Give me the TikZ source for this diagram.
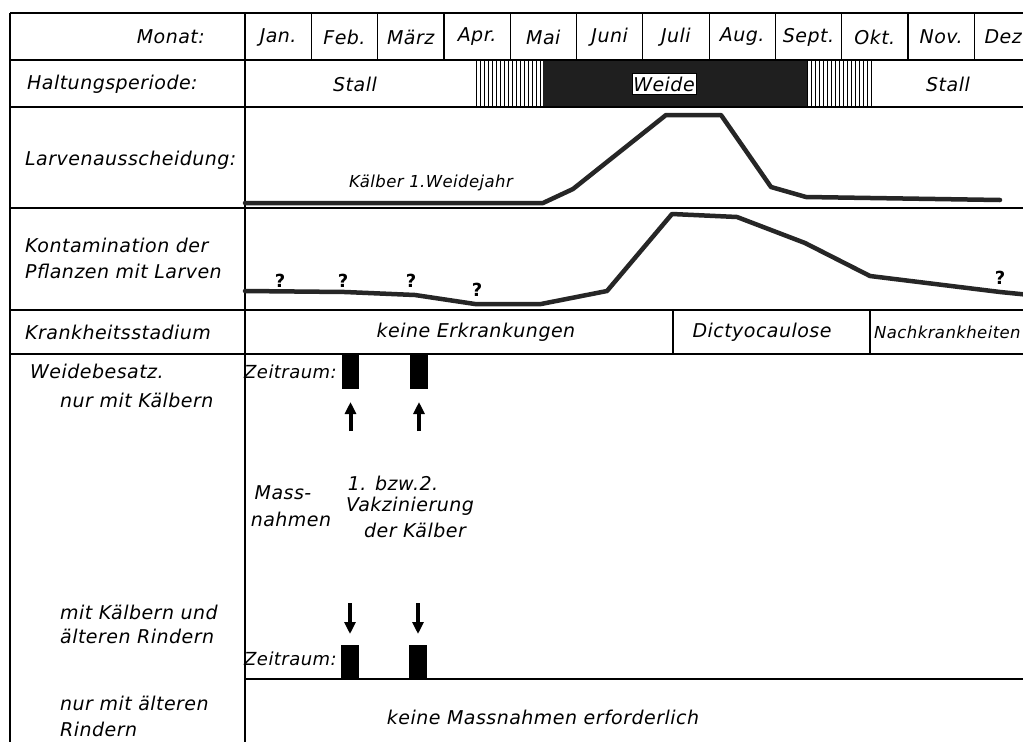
\documentclass[tikz,border=0pt]{standalone}
\usepackage{fontspec}
\setmainfont{DejaVu Sans}[LetterSpace=2.5]
\usetikzlibrary{arrows.meta}
\begin{document}
\begin{tikzpicture}[x=1pt,y=-1pt,
  txt/.style={font=\fontsize{19}{21}\selectfont\itshape, inner sep=0pt},
  small/.style={font=\fontsize{16.5}{18}\selectfont\itshape, inner sep=0pt},
  zeit/.style={font=\fontsize{18}{20}\selectfont\itshape, inner sep=0pt},
  qm/.style={font=\fontsize{18}{20}\selectfont\bfseries, inner sep=0pt},
  grid/.style={line width=1.2pt, black},
  curve/.style={line width=4.5pt, line join=round, line cap=round, black!85},
  hatch/.style={line width=0.9pt},
  period/.style={fill=black!88, draw=none},
  arr/.style={line width=4pt, -{Triangle[width=11pt,length=12pt]}}]
\clip (0,0) rectangle (1023,742);
\fill[white] (0,0) rectangle (1023,742);
% ---------- table grid ----------
\draw[grid] (10,13) -- (1023,13);
\foreach \yy in {60,107,208,310,354} \draw[grid] (10,\yy) -- (1023,\yy);
\draw[grid] (10,13) -- (10,742);
\draw[grid] (245,13) -- (245,742);
\draw[grid] (245,679) -- (1023,679);
\foreach \i in {1,...,11} \draw[grid] ({245+66.3*\i},13) -- ({245+66.3*\i},60);
\draw[grid] (673,310) -- (673,354);
\draw[grid] (870,310) -- (870,354);
% ---------- header ----------
\node[txt, anchor=east] (monat) at (205,37) {Monat:};
\foreach \m [count=\i] in {Jan.,Feb.,März,Apr.,Mai,Juni,Juli,Aug.,Sept.,Okt.,Nov.}
  \node[txt] (m\i) at ({245+66.3*(\i-0.5)},37) {\m};
\node[txt, anchor=east] (m12) at (1022,37) {Dez};
% ---------- Haltungsperiode ----------
\node[txt, anchor=west] (halt) at (27,84) {Haltungsperiode:};
\fill[period] (543,61) rectangle (807,106);
\foreach \xx in {476,480,...,543} \draw[hatch] (\xx,61) -- (\xx,106);
\foreach \xx in {807,811,...,873} \draw[hatch] (\xx,61) -- (\xx,106);
\node[txt] (stall1) at (355,84) {Stall};
\node[txt] (stall2) at (948,84) {Stall};
\node[txt, fill=white, draw=black, line width=0.6pt, inner sep=1.5pt, minimum height=21pt] (weide) at (664,84) {Weide};
% ---------- Larvenausscheidung ----------
\node[txt, anchor=west] (larv) at (25,160) {Larvenausscheidung:};
\draw[curve] (245,203) -- (543,203) -- (573,189) -- (666,115) -- (721,115)
  -- (771,187) -- (806,197) -- (1000,200);
\node[small] (kaelber) at (431,183) {Kälber 1.Weidejahr};
% ---------- Kontamination ----------
\node[txt, anchor=west] (kont1) at (25,245) {Kontamination der};
\node[txt, anchor=west] (kont2) at (25,271) {Pflanzen mit Larven};
\draw[curve] (245,291) -- (345,292) -- (415,295) -- (475,304) -- (541,304)
  -- (607,291) -- (672,214) -- (737,217) -- (805,243) -- (870,276)
  -- (1000,292) -- (1030,295);
\node[qm] (q1) at (280,281) {?};
\node[qm] (q2) at (343,281) {?};
\node[qm] (q3) at (411,281) {?};
\node[qm] (q4) at (477,290) {?};
\node[qm] (q5) at (1000,278) {?};
% ---------- Krankheitsstadium ----------
\node[txt, anchor=west] (krank) at (25,332) {Krankheitsstadium};
\node[txt] (keine) at (476,332) {keine Erkrankungen};
\node[txt] (dict) at (762,332) {Dictyocaulose};
\node[txt, anchor=west, font=\fontsize{16.5}{19}\selectfont\itshape] (nach) at (874,332) {Nachkrankheiten};
% ---------- Weidebesatz ----------
\node[txt, anchor=west] (wb1) at (30,371) {Weidebesatz.};
\node[txt, anchor=west] (wb2) at (60,400) {nur mit Kälbern};
\node[zeit, anchor=west] (zr1) at (244,372) {Zeitraum:};
\fill (342,355) rectangle (359,389);
\fill (410,355) rectangle (428,389);
\coordinate (ua1b) at (350.5,431);
\coordinate (ua1t) at (350.5,402);
\coordinate (ua2b) at (419,431);
\coordinate (ua2t) at (419,402);
\draw[arr] (ua1b) -- (ua1t);
\draw[arr] (ua2b) -- (ua2t);
\node[txt] (mass1) at (283,493) {Mass-};
\node[txt] (mass2) at (291,519) {nahmen};
\node[txt] (vak1) at (393,483) {1. bzw.2.};
\node[txt] (vak2) at (410,506) {Vakzinierung};
\node[txt] (vak3) at (415,530) {der Kälber};
\node[txt, anchor=west] (mk1) at (60,612) {mit Kälbern und};
\node[txt, anchor=west] (mk2) at (60,636) {älteren Rindern};
\coordinate (da1t) at (350,603);
\coordinate (da1b) at (350,634);
\coordinate (da2t) at (418,603);
\coordinate (da2b) at (418,634);
\draw[arr] (da1t) -- (da1b);
\draw[arr] (da2t) -- (da2b);
\node[zeit, anchor=west] (zr2) at (244,659) {Zeitraum:};
\fill (341,645) rectangle (359,679);
\fill (409,645) rectangle (427,679);
\node[txt, anchor=west] (nr1) at (60,703) {nur mit älteren};
\node[txt, anchor=west] (nr2) at (60,729) {Rindern};
\node[txt] (keinem) at (543,717) {keine Massnahmen erforderlich};
\end{tikzpicture}
\end{document}
